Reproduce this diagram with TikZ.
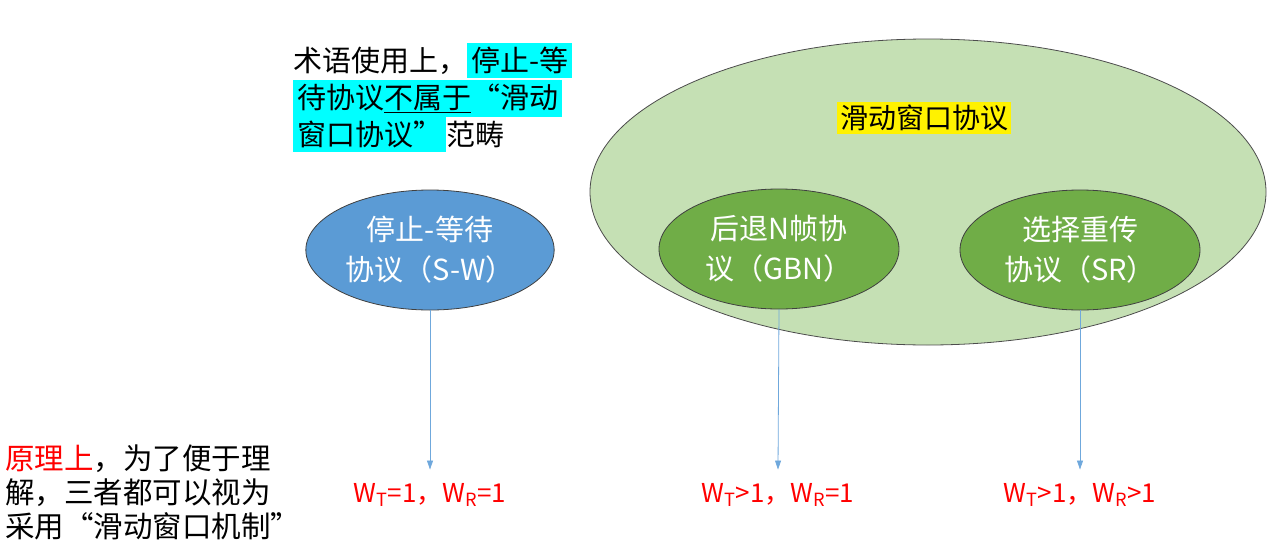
\documentclass[tikz,border=0pt]{standalone}
\usepackage{fontspec}
\usepackage{xcolor}
\usetikzlibrary{positioning,shapes.geometric,arrows.meta}
\newfontfamily\cjk{Noto Sans CJK SC}

\begin{document}
\begin{tikzpicture}[x=1pt,y=-1pt,
    every node/.style={font=\cjk},
    proto/.style={ellipse, draw=black!75, line width=0.8pt, text=white, align=center,
        minimum width=240pt, minimum height=120pt, font=\cjk\fontsize{29}{40}\selectfont},
    wlabel/.style={text=red, font=\cjk\fontsize{26}{30}\selectfont},
    link/.style={draw=linkblue, line width=0.8pt, -{Triangle[length=9pt,width=6pt]}}]
            % colours taken from the slide
            \definecolor{outergreen}{HTML}{C5E0B4}
            \definecolor{innergreen}{HTML}{70AD47}
            \definecolor{swblue}{HTML}{5B9BD5}
            \definecolor{linkblue}{HTML}{6FA8DC}
            \definecolor{mark}{HTML}{00FFFF}
            \useasboundingbox (0,0) rectangle (1280,544);
            \node[ellipse, draw=black!70, line width=0.8pt, fill=outergreen,
                minimum width=676pt, minimum height=306pt] (sliding) at (928,192) {};
            \node[fill=yellow, inner sep=3pt, font=\cjk\fontsize{28}{30}\selectfont] (slidingname) at (924,118) {滑动窗口协议};
            \node[proto, fill=swblue] (sw) at (430,250) {停止-等待\\协议（S-W）};
            \node[proto, fill=innergreen] (gbn) at (779,249) {后退N帧协\\议（GBN）};
            \node[proto, fill=innergreen] (sr) at (1080,250) {选择重传\\协议（SR）};
            \node[wlabel] (wsw) at (430,495) {W\textsubscript{T}=1，W\textsubscript{R}=1};
            \node[wlabel] (wgbn) at (778,495) {W\textsubscript{T}>1，W\textsubscript{R}=1};
            \node[wlabel] (wsr) at (1080,495) {W\textsubscript{T}>1，W\textsubscript{R}>1};
            \draw[link] (sw.south) -- ([yshift=10pt]wsw.north);
            \draw[link] (gbn.south) -- ([yshift=10pt]wgbn.north);
            \draw[link] (sr.south) -- ([yshift=10pt]wsr.north);
            % the two notes
            \node[anchor=north west, inner sep=0pt, align=left, font=\cjk\fontsize{29}{37}\selectfont] (termnote) at (293,43)
                {\setlength{\fboxsep}{4pt}术语使用上，\colorbox{mark}{停止-等}\\
                 \setlength{\fboxsep}{4pt}\colorbox{mark}{待协议\underline{不属于}“滑动}\\
                 \setlength{\fboxsep}{4pt}\colorbox{mark}{窗口协议”}范畴};
            \node[anchor=north west, inner sep=0pt, align=left, font=\cjk\fontsize{29.5}{34}\selectfont] (principle) at (5,445)
                {\textcolor{red}{原理上}，为了便于理\\解，三者都可以视为\\采用“滑动窗口机制”};
        \end{tikzpicture}
\end{document}
